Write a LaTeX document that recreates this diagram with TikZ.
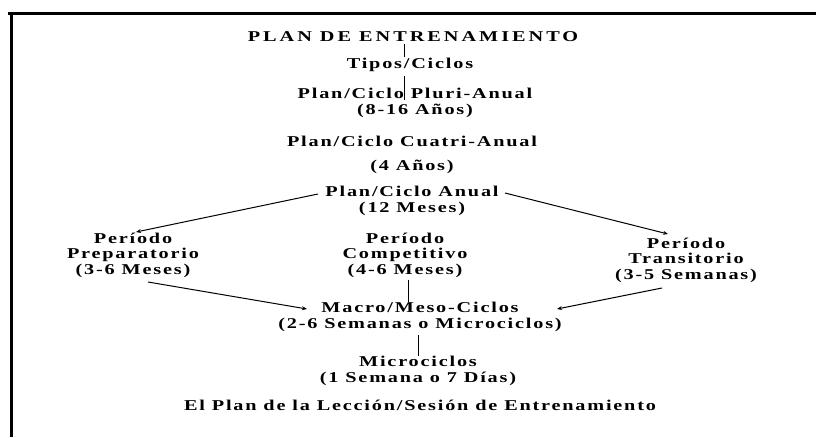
\documentclass[tikz,border=0pt]{standalone}
\usepackage{fontspec}
\newfontfamily\diagfont{Liberation Serif Bold}[FakeStretch=1.35,LetterSpace=12]
\newfontfamily\titlefont{Liberation Serif Bold}[FakeStretch=1.35,LetterSpace=20]
\usetikzlibrary{arrows.meta}
\begin{document}
\begin{tikzpicture}[x=1pt,y=-1pt,
  lbl/.style={inner sep=0pt,align=center,font=\diagfont\fontsize{15}{15.5}\selectfont},
  conn/.style={line width=1pt},
  arr/.style={line width=1pt,-{Stealth[length=5pt,width=4pt]}}]
\useasboundingbox (0,0) rectangle (816,437);
\draw[line width=3pt] (8,13) -- (816,13);
\draw[line width=3pt] (11,12) -- (11,437);
\node[lbl,font=\titlefont\fontsize{15}{15}\selectfont] (title) at (413,37) {PLAN DE ENTRENAMIENTO};
\node[lbl] (tipos) at (410,65) {Tipos/Ciclos};
\node[lbl] (pluri) at (415,103) {Plan/Ciclo Pluri-Anual\\(8-16 Años)};
\node[lbl] (cuatri) at (412,155) {Plan/Ciclo Cuatri-Anual\\[9pt](4 Años)};
\node[lbl] (anual) at (412,201) {Plan/Ciclo Anual\\(12 Meses)};
\node[lbl] (prep) at (133,255) {Período\\Preparatorio\\(3-6 Meses)};
\node[lbl] (comp) at (405,255) {Período\\Competitivo\\(4-6 Meses)};
\node[lbl] (trans) at (686,260) {Período\\Transitorio\\(3-5 Semanas)};
\node[lbl] (macro) at (420,317) {Macro/Meso-Ciclos\\(2-6 Semanas o Microciclos)};
\node[lbl] (micro) at (418,371) {Microciclos\\(1 Semana o 7 Días)};
\node[lbl] (plan) at (420,405) {El Plan de la Lección/Sesión de Entrenamiento};
\coordinate (aw) at (318,194);
\coordinate (ae) at (505,193);
\coordinate (pn) at (136,232);
\coordinate (tn) at (668,234);
\coordinate (ps) at (148,282);
\coordinate (ts) at (662,288);
\coordinate (mw) at (307,309);
\coordinate (me) at (557,309);
\draw[conn] (404,44) -- (404,57);
\draw[conn] (404,76) -- (404,100);
\draw[arr] (aw) -- (pn);
\draw[arr] (ae) -- (tn);
\draw[arr] (ps) -- (mw);
\draw[arr] (ts) -- (me);
\draw[conn] (comp.south -| 408,0) ++(0,2) -- (macro.north -| 408,0);
\draw[conn] (macro.south -| 418,0) ++(0,3) -- (micro.north -| 418,0);
\end{tikzpicture}
\end{document}
